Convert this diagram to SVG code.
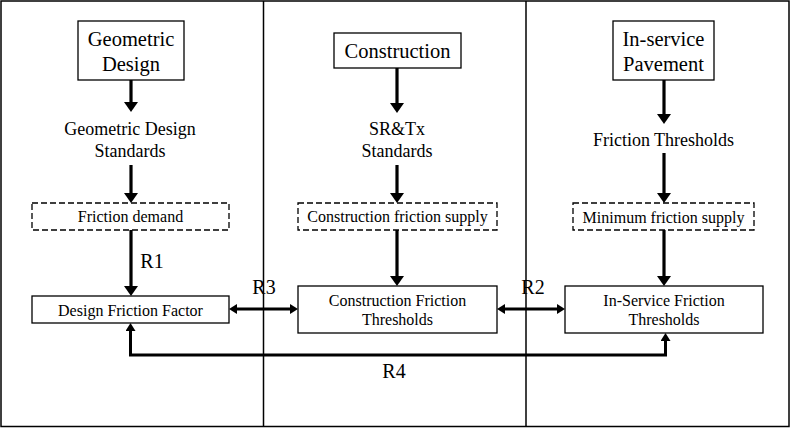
<svg xmlns="http://www.w3.org/2000/svg" width="791" height="428" viewBox="0 0 791 428">
<style>
.frame{fill:none;stroke:#000;stroke-width:1.5}
.box{fill:#fff;stroke:#000;stroke-width:1.3}
.dash{fill:#fff;stroke:#000;stroke-width:1.3;stroke-dasharray:6 3}
.t{font-family:"Liberation Serif","Times New Roman",serif;fill:#000;text-anchor:middle}
.big{font-size:20.5px}
.mid{font-size:18px}
.sm{font-size:16px}
.lbl{font-size:20px}
.arr{fill:none;stroke:#000;stroke-width:3.2;marker-end:url(#ah)}
.arr2{fill:none;stroke:#000;stroke-width:3}
</style>
<defs>
<marker id="ah" viewBox="0 0 10 14" refX="5" refY="7" markerWidth="10" markerHeight="14" markerUnits="userSpaceOnUse" orient="auto">
<path d="M0,0 L10,7 L0,14 z" fill="#000"/>
</marker>
<marker id="ahs" viewBox="0 0 8 10" refX="4" refY="5" markerWidth="8" markerHeight="10" markerUnits="userSpaceOnUse" orient="auto-start-reverse">
<path d="M0,0 L8,5 L0,10 z" fill="#000"/>
</marker>
</defs>
<g id="frame">
<rect class="frame" x="1" y="1" width="788" height="425.5"/>
<line class="frame" x1="263.5" y1="1" x2="263.5" y2="427"/>
<line class="frame" x1="526" y1="1" x2="526" y2="427"/>
</g>
<g id="connectors">
<line class="arr" x1="131" y1="80" x2="131" y2="107" marker-end="url(#ah)"/>
<line class="arr" x1="131" y1="165" x2="131" y2="198" marker-end="url(#ah)"/>
<line class="arr" x1="131" y1="230" x2="131" y2="291" marker-end="url(#ah)"/>
<line class="arr" x1="397" y1="68" x2="397" y2="108" marker-end="url(#ah)"/>
<line class="arr" x1="397" y1="165" x2="397" y2="198" marker-end="url(#ah)"/>
<line class="arr" x1="397" y1="230" x2="397" y2="281" marker-end="url(#ah)"/>
<line class="arr" x1="664" y1="80" x2="664" y2="119" marker-end="url(#ah)"/>
<line class="arr" x1="664" y1="153" x2="664" y2="198" marker-end="url(#ah)"/>
<line class="arr" x1="664" y1="230" x2="664" y2="281" marker-end="url(#ah)"/>
<line class="arr2" x1="233" y1="309" x2="294" y2="309" marker-start="url(#ahs)" marker-end="url(#ahs)"/>
<line class="arr2" x1="501" y1="309" x2="561" y2="309" marker-start="url(#ahs)" marker-end="url(#ahs)"/>
<polyline class="arr2" points="130.5,327 130.5,355 665.5,355 665.5,337" marker-start="url(#ahs)" marker-end="url(#ahs)"/>
<text class="t lbl" x="152" y="268">R1</text>
<text class="t lbl" x="264" y="294">R3</text>
<text class="t lbl" x="533" y="294">R2</text>
<text class="t lbl" x="394" y="378">R4</text>
</g>
<g id="geometric-design">
<rect class="box" x="78" y="21" width="106" height="59"/>
<text class="t big" x="131" y="46">Geometric</text>
<text class="t big" x="131" y="71">Design</text>
</g>
<g id="geometric-standards">
<text class="t mid" x="130" y="135">Geometric Design</text>
<text class="t mid" x="130" y="157">Standards</text>
</g>
<g id="friction-demand">
<rect class="dash" x="32" y="203" width="197" height="27"/>
<text class="t sm" x="130.5" y="222">Friction demand</text>
</g>
<g id="design-friction-factor">
<rect class="box" x="32" y="296" width="197" height="27"/>
<text class="t sm" x="130.5" y="316">Design Friction Factor</text>
</g>
<g id="construction">
<rect class="box" x="334" y="33" width="127" height="35"/>
<text class="t big" x="397.5" y="58">Construction</text>
</g>
<g id="srtx-standards">
<text class="t mid" x="397" y="135">SR&amp;Tx</text>
<text class="t mid" x="397" y="157">Standards</text>
</g>
<g id="construction-friction-supply">
<rect class="dash" x="298" y="203" width="199" height="27"/>
<text class="t sm" x="397.5" y="222">Construction friction supply</text>
</g>
<g id="construction-friction-thresholds">
<rect class="box" x="298" y="286" width="199" height="47"/>
<text class="t sm" x="397.5" y="306">Construction Friction</text>
<text class="t sm" x="397.5" y="325">Thresholds</text>
</g>
<g id="in-service-pavement">
<rect class="box" x="613" y="21" width="101" height="59"/>
<text class="t big" x="663.5" y="46">In-service</text>
<text class="t big" x="663.5" y="71">Pavement</text>
</g>
<g id="friction-thresholds">
<text class="t mid" x="663.5" y="146">Friction Thresholds</text>
</g>
<g id="minimum-friction-supply">
<rect class="dash" x="573" y="203" width="181" height="27"/>
<text class="t sm" x="663.5" y="223">Minimum friction supply</text>
</g>
<g id="in-service-friction-thresholds">
<rect class="box" x="565" y="286" width="198" height="47"/>
<text class="t sm" x="664" y="306">In-Service Friction</text>
<text class="t sm" x="664" y="325">Thresholds</text>
</g>
</svg>
